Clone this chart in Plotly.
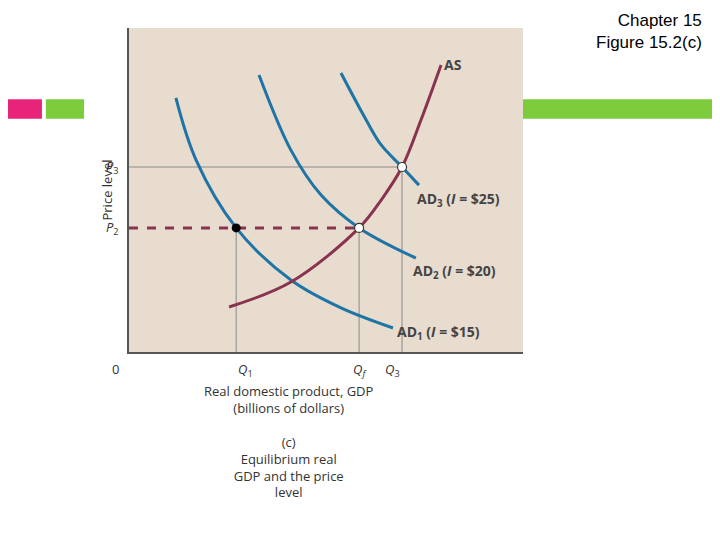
import plotly.graph_objects as go

# data (axis units 0..10)
as_x = [2.54, 4.11, 5.84, 6.40, 6.93, 7.41, 7.92]
as_y = [1.39, 2.16, 3.83, 4.69, 5.71, 7.16, 8.86]
ad1_x = [1.19, 1.70, 2.72, 4.11, 5.38, 6.70]
ad1_y = [7.84, 5.93, 3.83, 2.22, 1.36, 0.74]
ad2_x = [3.30, 4.11, 4.87, 5.84, 7.28]
ad2_y = [8.55, 6.23, 4.85, 3.83, 2.90]
ad3_x = [5.38, 6.02, 6.40, 6.93, 7.36]
ad3_y = [8.61, 7.16, 6.39, 5.71, 5.15]
q_vals = [2.72, 5.84, 6.93]
q_labels = ["<i>Q</i><sub>1</sub>", "<i>Q<sub>f</sub></i>", "<i>Q</i><sub>3</sub>"]
p_vals = [5.71, 3.83]
p_labels = ["<i>P</i><sub>3</sub>", "<i>P</i><sub>2</sub>"]

blue = "#1f74a6"
maroon = "#8a3350"
gray = "#8a8a8a"

fig = go.Figure()
# guide lines
fig.add_trace(go.Scatter(x=[0, q_vals[2], q_vals[2]], y=[p_vals[0], p_vals[0], 0],
                         mode="lines", line=dict(color=gray, width=1), hoverinfo="skip"))
for q in q_vals[:2]:
    fig.add_trace(go.Scatter(x=[q, q], y=[p_vals[1], 0], mode="lines",
                             line=dict(color=gray, width=1), hoverinfo="skip"))
fig.add_trace(go.Scatter(x=[0, q_vals[1]], y=[p_vals[1], p_vals[1]], mode="lines",
                         line=dict(color=maroon, width=3, dash="dash"), hoverinfo="skip"))

for xs, ys in [(ad1_x, ad1_y), (ad2_x, ad2_y), (ad3_x, ad3_y)]:
    fig.add_trace(go.Scatter(x=xs, y=ys, mode="lines",
                             line=dict(color=blue, width=3, shape="spline")))
fig.add_trace(go.Scatter(x=as_x, y=as_y, mode="lines",
                         line=dict(color=maroon, width=3, shape="spline")))

fig.add_trace(go.Scatter(x=[q_vals[1], q_vals[2]], y=[p_vals[1], p_vals[0]], mode="markers",
                         marker=dict(color="white", size=9, line=dict(color="#333", width=1.2))))
fig.add_trace(go.Scatter(x=[q_vals[0]], y=[p_vals[1]], mode="markers",
                         marker=dict(color="black", size=9)))

lab = dict(family="Open Sans, Arial", size=14, color="#444")
anns = [
    dict(x=7.95, y=8.86, text="<b>AS</b>", xanchor="left"),
    dict(x=7.25, y=4.7, text="<b>AD<sub>3</sub> (<i>I</i> = $25)</b>", xanchor="left"),
    dict(x=7.15, y=2.5, text="<b>AD<sub>2</sub> (<i>I</i> = $20)</b>", xanchor="left"),
    dict(x=6.75, y=0.6, text="<b>AD<sub>1</sub> (<i>I</i> = $15)</b>", xanchor="left"),
]
for a in anns:
    fig.add_annotation(showarrow=False, xref="x", yref="y", font=lab, **a)

# text outside the axes: paper coords (axes span 0..10 -> paper 0..1)
tk = dict(family="Open Sans, Arial", size=13, color="#333")
for q, t in zip(q_vals, q_labels):
    fig.add_annotation(xref="paper", yref="paper", x=q / 10, y=-0.02, text=t,
                       showarrow=False, yanchor="top", font=tk)
for p, t in zip(p_vals, p_labels):
    fig.add_annotation(xref="paper", yref="paper", x=-0.02, y=p / 10, text=t,
                       showarrow=False, xanchor="right", font=tk)
fig.add_annotation(xref="paper", yref="paper", x=-0.02, y=-0.02, text="0", showarrow=False,
                   xanchor="right", yanchor="top", font=tk)
fig.add_annotation(xref="paper", yref="paper", x=-0.085, y=0.5, text="Price level",
                   textangle=-90, showarrow=False, font=tk)
fig.add_annotation(xref="paper", yref="paper", x=0.407, y=-0.085, yanchor="top",
                   showarrow=False, font=tk,
                   text="Real domestic product, GDP<br>(billions of dollars)<br><br>(c)<br>"
                        "Equilibrium real<br>GDP and the price<br>level")
fig.add_annotation(xref="paper", yref="paper", x=1.46, y=1.06, xanchor="right", yanchor="top",
                   showarrow=False, align="right",
                   text="Chapter 15<br>Figure 15.2(c)",
                   font=dict(family="Arial", size=17, color="black"))

# slide decoration bars (paper coords)
for x0, x1, c in [(-0.33, -0.221, "#e8237a"), (-0.211, -0.114, "#7ccc3c"), (1.0, 1.6, "#7ccc3c")]:
    fig.add_shape(type="rect", xref="paper", yref="paper", x0=x0, x1=x1,
                  y0=0.72, y1=0.78, fillcolor=c, line_width=0, layer="below")

fig.update_xaxes(range=[0, 10], showgrid=False, zeroline=False, showticklabels=False,
                 showline=True, linecolor="#555", linewidth=2, mirror=False)
fig.update_yaxes(range=[0, 10], showgrid=False, zeroline=False, showticklabels=False,
                 showline=True, linecolor="#555", linewidth=2)
fig.update_layout(width=720, height=540, showlegend=False,
                  margin=dict(l=121, r=205, t=20, b=196),
                  plot_bgcolor="#e8dccf", paper_bgcolor="white")
fig.write_html("out.html")
